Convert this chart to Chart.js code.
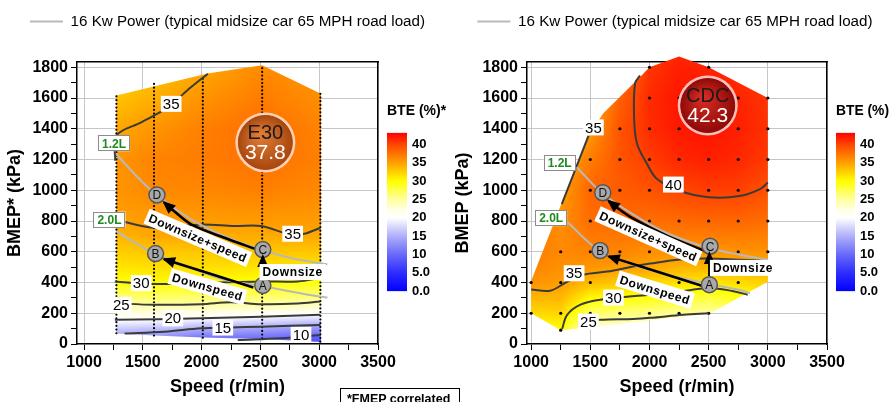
<!DOCTYPE html>
<html>
<head>
<meta charset="utf-8">
<script src="https://cdn.jsdelivr.net/npm/chart.js@4.4.0/dist/chart.umd.min.js"></script>
<style>
  html, body { margin: 0; padding: 0; background: #fff; width: 889px; height: 402px; overflow: hidden; }
  canvas { position: absolute; }
  #note { position: absolute; left: 340px; top: 388px; width: 120px; height: 22px; border: 1px solid #000;
          box-sizing: border-box; padding: 3px 0 0 6px; font: bold 12.5px "Liberation Sans", Arial, sans-serif; }
</style>
</head>
<body>
<canvas id="e30" width="455" height="402" style="left:0;top:0"></canvas>
<canvas id="cdc" width="440" height="402" style="left:455px;top:0"></canvas>
<canvas id="barE30" width="75" height="207" style="left:380px;top:97px"></canvas>
<canvas id="barCdc" width="60" height="207" style="left:829px;top:97px"></canvas>
<div id="note">*FMEP correlated</div>
<script>
// ---- axes ----
const speedTicks = [1000, 1250, 1500, 1750, 2000, 2250, 2500, 2750, 3000, 3250, 3500];
const bmepTicks = [0, 100, 200, 300, 400, 500, 600, 700, 800, 900, 1000, 1100, 1200, 1300, 1400, 1500, 1600, 1700, 1800];
const bteTicks = [0, 5, 10, 15, 20, 25, 30, 35, 40];
const bteTop = 43.2;
const powerLabel = '16 Kw Power (typical midsize car 65 MPH road load)';
const markNames = ['A', 'B', 'C', 'D'];

// ---- E30 map: BTE measured along speed sweeps ----
const e30Speeds = [1275, 1595, 2010, 2515, 3010];
const e30Bmep = [0, 50, 100, 150, 200, 250, 300, 400, 500, 600, 700, 800, 1000, 1200, 1400, 1600, 1800];
const e30Bte = [
  [11, 14, 16.8, 19.7, 22.2, 24.3, 26.2, 29.9, 31.3, 32.6, 33.8, 34.95, 35.6, 35.6, 34.6, 33.2, 32],
  [10, 13.6, 16.2, 19.3, 22.4, 24.7, 26.6, 30.2, 31.7, 33.0, 34.6, 35.3, 36.3, 36.6, 35.6, 34.2, 33],
  [8, 11.5, 14.9, 18.6, 21.8, 24.6, 26.4, 30.1, 31.7, 33.0, 34.3, 35.2, 36.4, 37.0, 36.8, 35.7, 34.5],
  [8.5, 11.2, 14.2, 17.8, 21.3, 24.7, 26.5, 29.8, 31.5, 33.0, 34.4, 35.3, 36.8, 37.6, 37.8, 37.0, 36.2],
  [7, 9.6, 12.9, 16.6, 20.6, 23.6, 26.0, 29.4, 31.4, 33.0, 34.5, 35.3, 36.3, 36.8, 36.6, 36.0, 35.5]
];
const e30EdgeSpeed = [1275, 1595, 2010, 2515, 3015, 3015, 2515, 2050, 1275];
const e30EdgeBmep = [68, 55, 43, 32, 13, 1628, 1813, 1760, 1617];
const e30SweepLow = [70, 55, 41, 37, 15];
const e30SweepHigh = [1617, 1693, 1747, 1813, 1628];

const e30Levels = [35, 35, 30, 25, 20, 15, 10];
const e30Isolines = [
  [[1262, 810], [1594, 756], [2002, 778], [2279, 767], [2503, 767], [2758, 712], [2874, 717], [3010, 756]],
  [[1265, 1192], [1274, 1355], [1487, 1442], [1594, 1486], [1713, 1540], [1911, 1671], [2053, 1758]],
  [[1262, 407], [1572, 390], [1996, 396], [2505, 407], [2817, 407], [3010, 429]],
  [[1262, 265], [1600, 255], [1996, 259], [2250, 272], [2505, 259], [2817, 263], [3010, 276]],
  [[1262, 157], [1628, 161], [1996, 167], [2505, 178], [3010, 190]],
  [[1345, 69], [1685, 80], [1996, 102], [2250, 107], [2505, 113], [3010, 124]],
  [[2307, 26], [2675, 37], [3010, 59]]
];
const e30LevelAt = [[2774, 717], [1741, 1562], [1486, 396], [1317, 255], [1755, 167], [2180, 107], [2845, 59]];
const e30Power12 = [[1274, 1236], [1430, 1105], [1594, 985], [1911, 810], [2194, 702], [2503, 614], [2758, 560], [3001, 527], [3070, 518]];
const e30Power20 = [[1274, 734], [1458, 647], [1594, 593], [1911, 495], [2194, 418], [2503, 379], [2758, 342], [3001, 309], [3070, 302]];
const e30Marks = [[2520, 381], [1608, 588], [2520, 614], [1620, 970]];
const e30Downspeed = [[2440, 368], [1680, 552]];
const e30DownsizeSpeed = [[2478, 612], [2194, 691], [1911, 778], [1741, 880], [1680, 922]];
const e30Downsize = [[2520, 430], [2520, 572]];
const e30Captions = [['Downspeed', 2050, 372, 16], ['Downsize+speed', 1968, 690, 23], ['Downsize', 2774, 468, 0]];
const e30Tags = [['1.2L', 1255, 1306], ['2.0L', 1216, 809]];
const e30Badge = ['E30', '37.8', 2542, 1311];

// ---- CDC map: BTE on a speed/load grid ----
const cdcSpeeds = [1000, 1250, 1500, 1750, 2000, 2250, 2500, 2750, 3000];
const cdcBmep = [0, 100, 200, 300, 400, 500, 600, 800, 1000, 1200, 1400, 1600, 1800, 2000];
const cdcBte = [
  [28, 30, 32, 33.8, 35.8, 36.5, 37, 37, 36, 35, 34, 33, 32, 31],
  [27, 30, 32.2, 33.8, 35.2, 35.9, 36.3, 35.9, 35, 34.3, 33.5, 33, 32, 31],
  [21, 23.4, 26.8, 30.3, 33.7, 35.6, 36.6, 37.8, 38.3, 37, 35.2, 34, 33, 32],
  [21, 23, 26.3, 29.9, 32.9, 35.2, 36.5, 38, 38.8, 39.2, 39.3, 38.5, 37, 36],
  [20, 22.8, 25.9, 29.5, 32.2, 34.7, 36, 37.8, 39.3, 40.4, 41.2, 41.3, 40.8, 40],
  [20, 22.5, 25.3, 28.8, 31.6, 34, 35.8, 38, 40, 41.4, 42.1, 42.2, 41.8, 41],
  [19, 21.5, 25, 28, 31.2, 33.8, 35.6, 38.2, 40.4, 41.8, 42.3, 42.2, 41.6, 41],
  [22, 24, 26.5, 29.3, 31.8, 34, 35.8, 38.2, 40.3, 41.4, 41.8, 41.6, 41, 40],
  [24, 26, 28, 30.5, 32.5, 34.2, 35.8, 37.8, 39.4, 40.6, 41, 40.8, 40.5, 40]
];
const cdcEdgeSpeed = [1000, 1250, 2500, 2800, 3000, 3000, 2500, 2250, 2000, 1937, 1608, 1473, 1000];
const cdcEdgeBmep = [200, 90, 195, 320, 405, 1600, 1800, 1870, 1800, 1750, 1500, 1340, 410];
const cdcTestPoints = [
  [1250, 90],
  [1000, 200], [1250, 200], [1500, 200], [1750, 200], [2000, 200], [2250, 200], [2500, 200],
  [1000, 400], [1250, 400], [1500, 400], [1750, 400], [2000, 400], [2250, 400], [2750, 400],
  [1250, 600], [1500, 600], [1750, 600], [2000, 600], [2250, 600], [2750, 600], [3000, 600],
  [1500, 800], [1750, 800], [2000, 800], [2250, 800], [2500, 800], [2750, 800], [3000, 800],
  [1500, 1000], [1750, 1000], [2000, 1000], [2250, 1000], [2500, 1000], [2750, 1000], [3000, 1000],
  [1500, 1200], [1750, 1200], [2000, 1200], [2250, 1200], [2500, 1200], [2750, 1200], [3000, 1200],
  [1750, 1400], [2000, 1400], [2250, 1400], [2750, 1400], [3000, 1400],
  [2000, 1600], [2250, 1600], [2750, 1600], [3000, 1600],
  [2000, 1800], [2500, 1800], [2250, 1870]
];

const cdcLevels = [40, 35, 35, 30, 25];
const cdcIsolines = [
  [[1920, 1747], [1878, 1695], [1870, 1472], [1895, 1302], [1980, 1171], [2064, 1073], [2258, 995], [2503, 955], [2757, 962], [2934, 1008], [3000, 1050]],
  [[1485, 1355], [1259, 910]],
  [[1000, 355], [1160, 347], [1304, 405], [1439, 451], [1642, 471], [1861, 504], [2005, 523], [2258, 550], [2500, 556], [2750, 548], [3000, 540]],
  [[1262, 98], [1304, 190], [1413, 255], [1583, 288], [1811, 307], [2005, 320], [2258, 342], [2500, 362], [2700, 345], [2830, 320]],
  [[1400, 140], [1583, 157], [1861, 163], [2005, 170], [2284, 190], [2500, 200]]
];
const cdcLevelAt = [[2202, 1037], [1526, 1409], [1363, 460], [1695, 302], [1484, 146]];
const cdcPower12 = [[1385, 1150], [1597, 984], [1864, 842], [2146, 722], [2503, 624], [2765, 580], [2999, 548]];
const cdcPower20 = [[1310, 790], [1583, 602], [1864, 515], [2146, 450], [2503, 391], [2765, 351], [2850, 330]];
const cdcMarks = [[2506, 386], [1583, 608], [2512, 636], [1605, 984]];
const cdcDownspeed = [[2455, 375], [1655, 570]];
const cdcDownsizeSpeed = [[2465, 605], [2146, 705], [1864, 815], [1720, 890], [1655, 930]];
const cdcDownsize = [[2506, 440], [2506, 592]];
const cdcCaptions = [['Downspeed', 2047, 353, 17], ['Downsize+speed', 1991, 701, 24], ['Downsize', 2790, 495, 0]];
const cdcTags = [['1.2L', 1241, 1178], ['2.0L', 1169, 819]];
const cdcBadge = ['CDC', '42.3', 2492, 1551];

// ---- palette: blue -> white -> yellow -> orange -> red ----
const paletteStops = [
  [0, [0, 0, 255]], [5, [45, 45, 255]], [10, [105, 105, 250]], [15, [175, 175, 250]],
  [20, [255, 255, 255]], [22, [255, 255, 232]], [25, [255, 255, 160]], [30, [255, 255, 0]],
  [35, [255, 160, 0]], [40, [255, 70, 0]], [43.2, [255, 0, 0]]
];
const FONT = '"Liberation Sans", Arial, sans-serif';
Chart.defaults.font.family = FONT;
Chart.defaults.color = '#000';

function bteColor(v) {
  for (let i = 1; i < paletteStops.length; i++) {
    if (v <= paletteStops[i][0] || i === paletteStops.length - 1) {
      const [v0, c0] = paletteStops[i - 1];
      const [v1, c1] = paletteStops[i];
      const t = Math.max(0, Math.min(1, (v - v0) / (v1 - v0)));
      return c0.map((c, k) => Math.round(c + (c1[k] - c) * t));
    }
  }
}

function locate(arr, v) {
  if (v <= arr[0]) return [0, 0];
  const n = arr.length;
  if (v >= arr[n - 1]) return [n - 2, 1];
  let i = 0;
  while (arr[i + 1] < v) i++;
  return [i, (v - arr[i]) / (arr[i + 1] - arr[i])];
}

// bilinear lookup: cols[i][j] is BTE at speeds[i], loads[j]
function bteAt(speeds, loads, cols, s, b) {
  const [i, tx] = locate(speeds, s);
  const [j, ty] = locate(loads, b);
  const a = cols[i][j] + (cols[i][j + 1] - cols[i][j]) * ty;
  const c = cols[i + 1][j] + (cols[i + 1][j + 1] - cols[i + 1][j]) * ty;
  return a + (c - a) * tx;
}

// fills the measured region with the BTE colour field
const fieldLayer = f => ({
  id: 'fieldLayer',
  beforeDatasetsDraw(chart) {
    const { ctx, scales: { x, y } } = chart;
    const px = f.edgeX.map(v => x.getPixelForValue(v));
    const py = f.edgeY.map(v => y.getPixelForValue(v));
    const x0 = Math.floor(Math.min(...px)) - 1, x1 = Math.ceil(Math.max(...px)) + 1;
    const y0 = Math.floor(Math.min(...py)) - 1, y1 = Math.ceil(Math.max(...py)) + 1;
    const w = x1 - x0, h = y1 - y0;
    const img = ctx.createImageData(w, h);
    for (let j = 0; j < h; j++) {
      const b = y.getValueForPixel(y0 + j + 0.5);
      for (let i = 0; i < w; i++) {
        const s = x.getValueForPixel(x0 + i + 0.5);
        const c = bteColor(bteAt(f.speeds, f.loads, f.bte, s, b));
        const k = (j * w + i) * 4;
        img.data[k] = c[0]; img.data[k + 1] = c[1]; img.data[k + 2] = c[2]; img.data[k + 3] = 255;
      }
    }
    const off = document.createElement('canvas');
    off.width = w; off.height = h;
    off.getContext('2d').putImageData(img, 0, 0);
    ctx.save();
    ctx.beginPath();
    px.forEach((p, i) => (i ? ctx.lineTo(p, py[i]) : ctx.moveTo(p, py[i])));
    ctx.closePath();
    ctx.clip();
    ctx.drawImage(off, x0, y0);
    ctx.restore();
  }
});

// labels, arrow heads and badges on top of the lines
const overlay = p => ({
  id: 'overlay',
  afterDatasetsDraw(chart) {
    const { ctx, scales: { x, y } } = chart;
    const X = v => x.getPixelForValue(v), Y = v => y.getPixelForValue(v);
    ctx.save();

    chart.data.datasets.forEach((ds, i) => {
      if (!ds.arrow) return;
      const pts = chart.getDatasetMeta(i).data;
      const a = pts[pts.length - 2], b = pts[pts.length - 1];
      ctx.save();
      ctx.translate(b.x, b.y);
      ctx.rotate(Math.atan2(b.y - a.y, b.x - a.x));
      ctx.beginPath();
      ctx.moveTo(2, 0); ctx.lineTo(-11, -5.5); ctx.lineTo(-11, 5.5); ctx.closePath();
      ctx.fillStyle = '#000';
      ctx.fill();
      ctx.restore();
    });

    ctx.textAlign = 'center';
    ctx.textBaseline = 'middle';

    ctx.font = '15px ' + FONT;
    p.levels.forEach((lv, i) => {
      const t = String(lv), [sx, sy] = p.levelAt[i];
      const w = ctx.measureText(t).width + 4;
      ctx.fillStyle = '#fff';
      ctx.fillRect(X(sx) - w / 2, Y(sy) - 8, w, 16);
      ctx.fillStyle = '#000';
      ctx.fillText(t, X(sx), Y(sy) + 1);
    });

    ctx.font = 'bold 12px ' + FONT;
    p.tags.forEach(([t, sx, sy]) => {
      const cx = X(sx), cy = Y(sy);
      ctx.fillStyle = '#fff';
      ctx.fillRect(cx - 16, cy - 8, 32, 16);
      ctx.strokeStyle = '#8c8c8c';
      ctx.lineWidth = 1;
      ctx.strokeRect(Math.round(cx - 16) + 0.5, Math.round(cy - 8) + 0.5, 31, 15);
      ctx.fillStyle = '#1f8a1f';
      ctx.fillText(t, cx, cy + 1);
    });

    const mi = chart.data.datasets.findIndex(d => d.marks);
    ctx.font = '12px ' + FONT;
    ctx.fillStyle = '#111';
    chart.getDatasetMeta(mi).data.forEach((pt, k) => ctx.fillText(markNames[k], pt.x, pt.y + 1));

    ctx.font = 'bold 12px ' + FONT;
    ctx.letterSpacing = '0.6px';
    p.captions.forEach(([t, sx, sy, deg]) => {
      ctx.save();
      ctx.translate(X(sx), Y(sy));
      ctx.rotate(deg * Math.PI / 180);
      const w = ctx.measureText(t).width + 6;
      ctx.fillStyle = '#fff';
      ctx.fillRect(-w / 2, -8, w, 16);
      ctx.fillStyle = '#000';
      ctx.fillText(t, 0, 1);
      ctx.restore();
    });
    ctx.letterSpacing = '0px';

    const [name, value, bx, by] = p.badge;
    const cx = X(bx), cy = Y(by), r = 27;
    ctx.beginPath();
    ctx.arc(cx, cy, r + 3, 0, Math.PI * 2);
    ctx.fillStyle = p.badgeGlow;
    ctx.fill();
    const g = ctx.createRadialGradient(cx - 5, cy - 8, 3, cx, cy, r);
    g.addColorStop(0, p.badgeFill[0]);
    g.addColorStop(1, p.badgeFill[1]);
    ctx.beginPath();
    ctx.arc(cx, cy, r, 0, Math.PI * 2);
    ctx.fillStyle = g;
    ctx.fill();
    ctx.lineWidth = 1;
    ctx.strokeStyle = p.badgeFill[1];
    ctx.stroke();
    ctx.font = '20px ' + FONT;
    ctx.fillStyle = '#1a1a1a';
    ctx.fillText(name, cx, cy - 9);
    ctx.font = '21px ' + FONT;
    ctx.fillStyle = '#fff';
    ctx.fillText(value, cx, cy + 11);
    ctx.restore();
  }
});

const toXY = pts => pts.map(([x, y]) => ({ x, y }));
function lineSet(pts, color, width, order, extra) {
  return Object.assign({
    data: toXY(pts), showLine: true, borderColor: color, backgroundColor: color,
    borderWidth: width, pointRadius: 0, tension: 0.35, order
  }, extra || {});
}

function drawPanel(id, p) {
  const datasets = [];
  p.power.forEach(c => datasets.push(lineSet(c, '#b9b9b9', 2, 4)));
  (p.sweeps || []).forEach(c => datasets.push(lineSet(c, '#000', 2.2, 6,
    { borderDash: [0, 3.7], borderCapStyle: 'round', tension: 0 })));
  if (p.dots) datasets.push({ data: toXY(p.dots), pointRadius: 1.6, pointBackgroundColor: '#000',
    pointBorderWidth: 0, order: 6, clip: false });
  p.isolines.forEach(c => datasets.push(lineSet(c, '#3b3b3b', 2, 5)));
  p.arrows.forEach(c => datasets.push(lineSet(c, '#000', 2.6, 3, { arrow: true, tension: 0.3 })));
  datasets.push({ data: toXY(p.marks), pointRadius: 8, pointBackgroundColor: '#a9a9a9',
    pointBorderColor: '#555', pointBorderWidth: 1.5, order: 2, marks: true });

  const tickFont = { size: 16, weight: 'bold' };
  const titleFont = { size: 18, weight: 'bold' };
  new Chart(document.getElementById(id), {
    type: 'scatter',
    data: { datasets },
    options: {
      responsive: false, animation: false, events: [],
      layout: { padding: 0 },
      plugins: {
        tooltip: { enabled: false },
        legend: {
          display: true, position: 'top', align: 'center',
          labels: {
            boxWidth: 33, boxHeight: 2, padding: 14, color: '#000', font: { size: 15.2 },
            generateLabels: () => [{ text: powerLabel, fillStyle: '#b9b9b9', strokeStyle: '#b9b9b9',
              lineWidth: 0, hidden: false, datasetIndex: 0 }]
          }
        }
      },
      scales: {
        x: {
          type: 'linear', min: p.xMin, max: 3500,
          afterBuildTicks: s => { s.ticks = speedTicks.map(v => ({ value: v })); },
          afterFit: s => { s.height = 58; },
          ticks: { callback: v => (v % 500 === 0 ? String(v) : ''), font: tickFont, color: '#000',
            autoSkip: false, maxRotation: 0, padding: 3 },
          grid: { color: c => (c.tick && c.tick.value % 500 === 0 ? '#c6c6c6' : 'rgba(0,0,0,0)'),
            tickColor: '#000', tickLength: 6 },
          border: { color: '#000', width: 1.5 },
          title: { display: true, text: 'Speed (r/min)', font: titleFont, color: '#000', padding: { top: 4, bottom: 4 } }
        },
        y: {
          type: 'linear', min: 0, max: 1833,
          afterBuildTicks: s => { s.ticks = bmepTicks.map(v => ({ value: v })); },
          afterFit: s => { s.width = p.yWidth; },
          ticks: { callback: v => (v % 200 === 0 ? String(v) : ''), font: tickFont, color: '#000',
            autoSkip: false, padding: 3 },
          grid: { color: c => (c.tick && c.tick.value % 200 === 0 && c.tick.value > 0 ? '#c6c6c6' : 'rgba(0,0,0,0)'),
            tickColor: '#000', tickLength: 6 },
          border: { color: '#000', width: 1.5 },
          title: { display: true, text: p.yTitle, font: titleFont, color: '#000', padding: p.yTitlePad }
        },
        xTop: {
          type: 'linear', axis: 'x', position: 'top', min: p.xMin, max: 3500,
          ticks: { display: false }, grid: { display: false, drawTicks: false },
          border: { color: '#000', width: 1.5 },
          afterFit: s => { s.height = 23; }
        },
        yRight: {
          type: 'linear', axis: 'y', position: 'right', min: 0, max: 1833,
          ticks: { display: false }, grid: { display: false, drawTicks: false },
          border: { color: '#000', width: 1.5 },
          afterFit: s => { s.width = p.rightWidth; }
        }
      }
    },
    plugins: [fieldLayer(p.field), overlay(p)]
  });
}

function drawColorBar(id, title, axisWidth) {
  new Chart(document.getElementById(id), {
    type: 'bar',
    data: {
      labels: [''],
      datasets: [{
        data: [[0, bteTop]], barPercentage: 1, categoryPercentage: 1, borderWidth: 0,
        backgroundColor: c => {
          const area = c.chart.chartArea;
          if (!area) return '#fff';
          const g = c.chart.ctx.createLinearGradient(0, area.bottom, 0, area.top);
          paletteStops.forEach(([v, rgb]) => g.addColorStop(v / bteTop, 'rgb(' + rgb.join(',') + ')'));
          return g;
        }
      }]
    },
    options: {
      responsive: false, animation: false, events: [],
      layout: { padding: { left: 7, bottom: 10 } },
      plugins: {
        legend: { display: false }, tooltip: { enabled: false },
        title: { display: true, text: title, align: 'start', color: '#000',
          font: { size: 14, weight: 'bold' }, padding: { top: 6, bottom: 13 } }
      },
      scales: {
        x: { display: false },
        y: {
          position: 'right', min: 0, max: bteTop,
          afterBuildTicks: s => { s.ticks = bteTicks.map(v => ({ value: v })); },
          afterFit: s => { s.width = axisWidth; },
          ticks: { callback: v => (v < 10 ? v.toFixed(1) : String(v)), color: '#000',
            font: { size: 13, weight: 'bold' }, padding: 5 },
          grid: { display: false, drawTicks: false },
          border: { display: false }
        }
      }
    }
  });
}

drawPanel('e30', {
  xMin: 940, yWidth: 77, rightWidth: 77, yTitle: 'BMEP* (kPa)', yTitlePad: { top: 4, bottom: 4 },
  field: { speeds: e30Speeds, loads: e30Bmep, bte: e30Bte, edgeX: e30EdgeSpeed, edgeY: e30EdgeBmep },
  sweeps: e30Speeds.map((s, i) => [[s, e30SweepLow[i]], [s, e30SweepHigh[i]]]),
  isolines: e30Isolines, levels: e30Levels, levelAt: e30LevelAt,
  power: [e30Power12, e30Power20],
  arrows: [e30Downspeed, e30DownsizeSpeed, e30Downsize],
  marks: e30Marks, captions: e30Captions, tags: e30Tags, badge: e30Badge,
  badgeFill: ['#de7a34', '#a8470f'], badgeGlow: 'rgba(255,214,190,0.95)'
});

drawPanel('cdc', {
  xMin: 965, yWidth: 72, rightWidth: 68, yTitle: 'BMEP (kPa)', yTitlePad: { top: -3, bottom: -3 },
  field: { speeds: cdcSpeeds, loads: cdcBmep, bte: cdcBte, edgeX: cdcEdgeSpeed, edgeY: cdcEdgeBmep },
  dots: cdcTestPoints,
  isolines: cdcIsolines, levels: cdcLevels, levelAt: cdcLevelAt,
  power: [cdcPower12, cdcPower20],
  arrows: [cdcDownspeed, cdcDownsizeSpeed, cdcDownsize],
  marks: cdcMarks, captions: cdcCaptions, tags: cdcTags, badge: cdcBadge,
  badgeFill: ['#d42a22', '#8e0a08'], badgeGlow: 'rgba(255,200,195,0.95)'
});

drawColorBar('barE30', 'BTE (%)*', 48);
drawColorBar('barCdc', 'BTE (%)', 34);
</script>
</body>
</html>
